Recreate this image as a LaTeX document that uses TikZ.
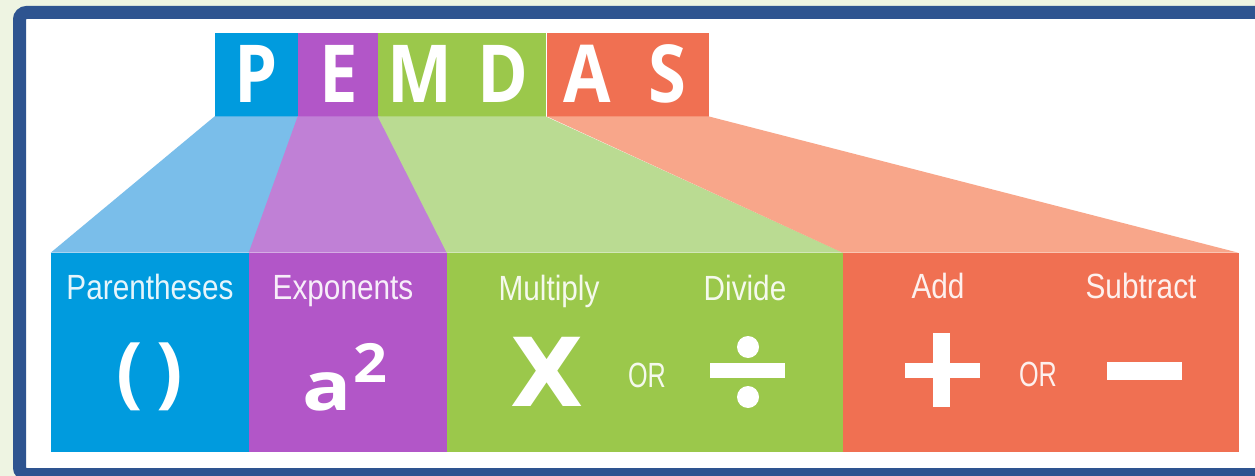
\documentclass[tikz,border=0pt]{standalone}
\usepackage{fontspec}
\setmainfont{Open Sans}
\newfontfamily\narrowfont[FakeStretch=0.85]{Liberation Sans}
\newfontfamily\tightfont[FakeStretch=0.72]{Liberation Sans}
\newfontfamily\heavyfont{DejaVu Sans}

\definecolor{pblue}{RGB}{0,155,222}
\definecolor{ppurple}{RGB}{178,86,200}
\definecolor{pgreen}{RGB}{155,200,75}
\definecolor{porange}{RGB}{240,112,82}
\definecolor{lblue}{RGB}{122,190,234}
\definecolor{lpurple}{RGB}{192,128,214}
\definecolor{lgreen}{RGB}{186,219,146}
\definecolor{lorange}{RGB}{248,166,138}
\definecolor{frameblue}{RGB}{46,84,144}
\definecolor{paper}{RGB}{238,244,226}

\newcommand{\tile}[1]{\scalebox{0.86}[1]{#1}}

\begin{document}
\begin{tikzpicture}[x=1pt,y=-1pt,
  letter/.style={inner sep=0pt, minimum height=83pt, text height=57pt, text depth=0pt,
    text=white, line width=0.6pt, font=\fontsize{80}{80}\selectfont\bfseries},
  band/.style={inner sep=0pt, minimum height=198pt, line width=0.6pt},
  caption/.style={font=\narrowfont\fontsize{35}{40}\selectfont, text=white,
    text opacity=0.9, anchor=base, inner sep=0pt},
  orword/.style={caption, font=\tightfont\fontsize{35}{40}\selectfont},
  bar/.style={fill=white, inner sep=0pt, rectangle},
  dot/.style={fill=white, inner sep=0pt, circle, minimum size=22pt}
]
\useasboundingbox (0,0) rectangle (1255,476);
\begin{scope}
\clip (0,0) rectangle (1255,476);
\fill[paper] (0,0) rectangle (1255,476);
% frame
\draw[frameblue, line width=13pt, fill=white, rounded corners=7pt]
  (19.5,12.5) rectangle (1275,474.5);
\end{scope}

% letter tiles
\node[letter, fill=pblue,   draw=pblue,   minimum width=83pt] (P) at (256.5,74.5) {\tile{P}};
\node[letter, fill=ppurple, draw=ppurple, minimum width=82pt] (E) at (339,74.5) {\tile{E}};
\node[letter, fill=pgreen,  draw=pgreen,  minimum width=83pt] (M) at (419.5,74.5) {\tile{M}};
\node[letter, fill=pgreen,  draw=pgreen,  minimum width=84pt] (D) at (503,74.5) {\tile{D}};
\node[letter, fill=porange, draw=porange, minimum width=80pt] (A) at (587,74.5) {\tile{A}};
\node[letter, fill=porange, draw=porange, minimum width=81pt] (S) at (667.5,74.5) {\tile{S}};

% bottom bands
\node[band, fill=pblue,   draw=pblue,   minimum width=198pt] (Pb)  at (150,352) {};
\node[band, fill=ppurple, draw=ppurple, minimum width=198pt] (Eb)  at (348,352) {};
\node[band, fill=pgreen,  draw=pgreen,  minimum width=396pt] (MDb) at (645,352) {};
\node[band, fill=porange, draw=porange, minimum width=395pt] (ASb) at (1040.5,352) {};

% widening wedges between the tiles and the bands
\fill[lblue]   (P.south west) -- (P.south east) -- (Pb.north east) -- (Pb.north west) -- cycle;
\fill[lpurple] (E.south west) -- (E.south east) -- (Eb.north east) -- (Eb.north west) -- cycle;
\fill[lgreen]  (M.south west) -- (D.south east) -- (MDb.north east) -- (MDb.north west) -- cycle;
\fill[lorange] (A.south west) -- (S.south east) -- (ASb.north east) -- (ASb.north west) -- cycle;

% captions
\node[caption] (par)  at (150,299)  {Parentheses};
\node[caption] (expo) at (343,299)  {Exponents};
\node[caption] (mul)  at (549,300)  {Multiply};
\node[caption] (div)  at (745,300)  {Divide};
\node[caption] (add)  at (938,298)  {Add};
\node[caption] (sub)  at (1141,298) {Subtract};
\node[orword] (or1)  at (647,387)  {OR};
\node[orword] (or2)  at (1038,386) {OR};

% symbols
\node[inner sep=0pt, text=white, font=\fontsize{78}{78}\selectfont\bfseries] (parsym) at (150,377)
  {(\hspace{14pt})};
\node[inner sep=0pt, text=white, anchor=base west, font=\fontsize{68}{68}\selectfont\bfseries] (asym) at (302,410)
  {\scalebox{1.2}[1]{a}\hspace{2pt}\raisebox{28pt}{\fontsize{54}{54}\selectfont\scalebox{1.1}[1]{2}}};
\node[inner sep=0pt, text=white, font=\heavyfont\fontsize{95}{95}\selectfont\bfseries] (xsym) at (547,372) {X};

% division sign
\node[bar, minimum width=75pt, minimum height=15pt] (divbar) at (747.5,370.5) {};
\node[dot] (divtop) at (748,347) {};
\node[dot] (divbot) at (748,397) {};

% plus sign
\node[bar, minimum width=75pt, minimum height=15pt] (plush) at (942.5,370.5) {};
\node[bar, minimum width=17pt, minimum height=74pt] (plusv) at (941.5,370) {};

% minus sign
\node[bar, minimum width=75pt, minimum height=18pt] (minus) at (1144.5,371) {};
\end{tikzpicture}
\end{document}
